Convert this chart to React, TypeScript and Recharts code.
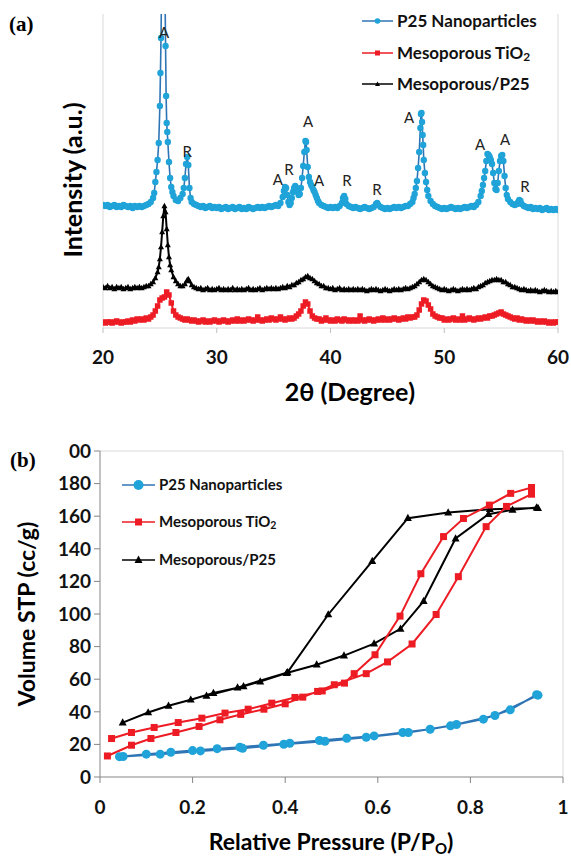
import React from 'react';
import { LineChart, Line, XAxis, YAxis, ReferenceLine, ReferenceDot } from 'recharts';

// (a) XRD patterns: [2θ, intensity a.u.]
const p25Xrd: [number, number][] = [
  [20.0,123],[20.2,122],[20.4,123],[20.6,121],[20.8,122],[21.0,123],[21.2,121],[21.4,122],[21.6,121],[21.8,123],[22.0,122],[22.2,121],[22.4,122],[22.6,120],[22.8,122],[23.0,121],[23.2,122],[23.4,121],[23.6,122],[23.8,123],[24.0,124],[24.2,126],
  [24.4,130],[24.5,135],[24.6,146],[24.7,156],[24.8,168],[24.9,185],[25.0,222],[25.05,255],[25.1,290],[25.15,340],[25.2,400],[25.3,450],[25.4,400],[25.45,340],[25.5,282],[25.55,232],[25.6,205],[25.65,196],[25.7,186],[25.8,166],[25.9,150],[26.0,141],[26.1,136],[26.2,132],[26.4,128],[26.6,127],[26.8,130],[27.0,134],[27.1,140],[27.2,150],[27.3,164],[27.4,171],[27.5,163],[27.6,140],[27.7,130],[27.8,126],[28.0,124],[28.2,123],
  [28.4,122],[28.6,121],[28.8,122],[29.0,120],[29.2,121],[29.4,122],[29.6,120],[29.8,121],[30.0,120],[30.2,121],[30.4,119],[30.6,120],[30.8,121],[31.0,119],[31.2,120],[31.4,121],[31.6,119],[31.8,120],[32.0,121],[32.2,119],[32.4,120],[32.6,119],[32.8,121],[33.0,120],[33.2,119],[33.4,120],[33.6,121],[33.8,120],[34.0,121],[34.2,120],[34.4,121],[34.6,122],[34.8,121],[35.0,122],[35.2,123],[35.4,122],
  [35.6,125],[35.8,131],[35.9,137],[36.0,141],[36.1,140],[36.2,133],[36.3,126],[36.4,123],[36.5,125],[36.6,130],[36.7,136],[36.8,140],[36.9,142],[37.0,140],[37.1,136],[37.2,133],[37.3,134],[37.4,140],[37.5,150],[37.6,162],[37.7,176],[37.8,187],[37.85,186],[37.9,178],[38.0,161],[38.1,151],[38.2,146],[38.3,143],[38.4,141],[38.5,138],[38.6,136],[38.7,133],[38.8,130],[38.9,127],[39.0,125],[39.2,123],
  [39.4,122],[39.6,121],[39.8,120],[40.0,121],[40.2,120],[40.4,121],[40.6,120],[40.8,122],[41.0,125],[41.1,130],[41.2,132],[41.3,129],[41.4,124],[41.6,122],[41.8,121],[42.0,120],[42.2,121],[42.4,120],[42.6,119],[42.8,120],[43.0,121],[43.2,120],[43.4,119],[43.6,120],[43.8,121],[44.0,124],[44.1,125],[44.2,123],[44.4,121],[44.6,120],[44.8,119],[45.0,120],[45.2,119],[45.4,120],[45.6,121],[45.8,120],[46.0,121],[46.2,120],[46.4,121],[46.6,122],[46.8,122],
  [47.0,124],[47.2,126],[47.3,130],[47.4,134],[47.5,140],[47.6,147],[47.7,160],[47.8,176],[47.9,200],[47.95,214],[48.0,215],[48.05,206],[48.1,193],[48.15,183],[48.2,168],[48.3,155],[48.4,146],[48.5,138],[48.6,132],[48.8,127],[49.0,124],[49.2,122],
  [49.4,121],[49.6,120],[49.8,119],[50.0,120],[50.2,119],[50.4,120],[50.6,121],[50.8,120],[51.0,119],[51.2,120],[51.4,119],[51.6,120],[51.8,121],[52.0,120],[52.2,121],[52.4,122],[52.6,121],[52.8,123],
  [53.0,126],[53.2,132],[53.3,137],[53.4,143],[53.5,150],[53.6,157],[53.7,167],[53.8,174],[53.9,173],[54.0,171],[54.1,168],[54.2,164],[54.3,155],[54.4,145],[54.5,139],[54.6,138],[54.7,145],[54.8,157],[54.9,167],[55.0,172],[55.1,173],[55.2,167],[55.3,152],[55.4,140],[55.5,133],[55.6,129],[55.8,126],[56.0,124],[56.2,123],[56.4,124],[56.5,126],[56.6,128],[56.7,127],[56.8,124],
  [57.0,122],[57.2,121],[57.4,120],[57.6,121],[57.8,119],[58.0,120],[58.2,119],[58.4,120],[58.6,118],[58.8,119],[59.0,120],[59.2,118],[59.4,119],[59.6,118],[59.8,119],[60.0,118],
];

const mesoP25Xrd: [number, number][] = [
  [20.0,41],[20.2,40],[20.4,42],[20.6,40],[20.8,41],[21.0,39],[21.2,41],[21.4,40],[21.6,41],[21.8,39],[22.0,40],[22.2,41],[22.4,39],[22.6,40],[22.8,41],[23.0,40],[23.2,41],[23.4,40],[23.6,41],[23.8,42],[24.0,42],[24.2,44],
  [24.4,46],[24.6,50],[24.8,56],[24.9,61],[25.0,69],[25.1,81],[25.2,96],[25.3,112],[25.4,122],[25.5,116],[25.6,99],[25.7,83],[25.8,71],[25.9,63],[26.0,58],[26.2,51],[26.4,47],[26.6,44],[26.8,42],[27.0,42],[27.2,44],[27.4,48],[27.5,49],[27.6,47],[27.8,43],[28.0,41],[28.2,40],
  [28.4,39],[28.6,40],[28.8,38],[29.0,39],[29.2,40],[29.4,38],[29.6,39],[29.8,38],[30.0,39],[30.2,40],[30.4,38],[30.6,39],[30.8,38],[31.0,39],[31.2,38],[31.4,40],[31.6,38],[31.8,39],[32.0,38],[32.2,39],[32.4,38],[32.6,39],[32.8,40],[33.0,38],[33.2,39],[33.4,38],[33.6,39],[33.8,40],[34.0,38],[34.2,39],[34.4,40],[34.6,39],[34.8,40],[35.0,39],[35.2,40],[35.4,39],[35.6,40],[35.8,41],
  [36.0,40],[36.2,42],[36.4,41],[36.6,43],[36.8,43],[37.0,45],[37.2,46],[37.4,48],[37.6,49],[37.8,51],[38.0,52],[38.2,50],[38.4,49],[38.6,47],[38.8,45],[39.0,44],[39.2,42],[39.4,42],[39.6,40],[39.8,40],
  [40.0,39],[40.2,40],[40.4,38],[40.6,39],[40.8,40],[41.0,38],[41.2,39],[41.4,38],[41.6,39],[41.8,38],[42.0,39],[42.2,38],[42.4,39],[42.6,38],[42.8,39],[43.0,38],[43.2,37],[43.4,38],[43.6,39],[43.8,38],[44.0,39],[44.2,38],[44.4,37],[44.6,38],[44.8,39],[45.0,38],[45.2,37],[45.4,38],[45.6,39],[45.8,38],[46.0,39],[46.2,38],[46.4,39],[46.6,40],[46.8,39],
  [47.0,40],[47.2,41],[47.4,42],[47.6,44],[47.8,46],[48.0,48],[48.2,49],[48.4,48],[48.6,46],[48.8,44],[49.0,42],[49.2,41],[49.4,40],[49.6,39],[49.8,38],
  [50.0,39],[50.2,38],[50.4,37],[50.6,38],[50.8,39],[51.0,38],[51.2,37],[51.4,38],[51.6,39],[51.8,38],[52.0,39],[52.2,38],[52.4,39],[52.6,40],[52.8,39],
  [53.0,41],[53.2,42],[53.4,43],[53.6,45],[53.8,46],[54.0,47],[54.2,48],[54.4,48],[54.6,49],[54.8,48],[55.0,48],[55.2,46],[55.4,46],[55.6,44],[55.8,43],[56.0,41],[56.2,41],[56.4,40],[56.6,39],[56.8,38],
  [57.0,39],[57.2,38],[57.4,37],[57.6,38],[57.8,37],[58.0,38],[58.2,37],[58.4,36],[58.6,37],[58.8,38],[59.0,37],[59.2,36],[59.4,37],[59.6,36],[59.8,37],[60.0,36],
];

const mesoTiO2Xrd: [number, number][] = [
  [20.0,6],[20.2,5],[20.4,6],[20.6,6],[20.8,5],[21.0,6],[21.2,7],[21.4,6],[21.6,5],[21.8,6],[22.0,6],[22.2,7],[22.4,6],[22.6,8],[22.8,7],[23.0,9],[23.2,8],[23.4,9],[23.6,8],[23.8,10],[24.0,9],[24.2,11],
  [24.4,13],[24.6,17],[24.8,22],[25.0,28],[25.2,30],[25.4,31],[25.6,36],[25.8,33],[26.0,25],[26.2,17],[26.4,13],[26.6,11],[26.8,10],[27.0,9],[27.2,8],[27.4,9],[27.6,8],[27.8,7],
  [28.0,8],[28.2,7],[28.4,6],[28.6,7],[28.8,8],[29.0,6],[29.2,7],[29.4,6],[29.6,7],[29.8,8],[30.0,7],[30.2,6],[30.4,7],[30.6,8],[30.8,7],[31.0,6],[31.2,7],[31.4,8],[31.6,7],[31.8,9],[32.0,7],[32.2,8],[32.4,7],[32.6,8],[32.8,9],[33.0,8],[33.2,7],[33.4,8],[33.6,11],[33.8,8],[34.0,7],[34.2,8],[34.4,9],[34.6,8],[34.8,10],[35.0,9],[35.2,8],[35.4,9],[35.6,11],[35.8,9],[36.0,8],[36.2,9],[36.4,10],[36.6,9],[36.8,10],
  [37.0,12],[37.2,14],[37.4,17],[37.6,22],[37.8,26],[38.0,24],[38.2,17],[38.4,12],[38.6,10],[38.8,9],
  [39.0,9],[39.2,7],[39.4,8],[39.6,10],[39.8,8],[40.0,7],[40.2,8],[40.4,7],[40.6,9],[40.8,8],[41.0,7],[41.2,9],[41.4,8],[41.6,7],[41.8,8],[42.0,7],[42.2,8],[42.4,7],[42.6,12],[42.8,8],[43.0,7],[43.2,8],[43.4,9],[43.6,8],[43.8,7],[44.0,8],[44.2,9],[44.4,8],[44.6,10],[44.8,8],[45.0,9],[45.2,8],[45.4,9],[45.6,10],[45.8,9],[46.0,8],[46.2,9],[46.4,10],[46.6,9],[46.8,11],
  [47.0,10],[47.2,11],[47.4,11],[47.6,13],[47.8,18],[48.0,24],[48.2,28],[48.4,27],[48.6,23],[48.8,19],[49.0,14],[49.2,12],[49.4,11],[49.6,10],[49.8,10],
  [50.0,8],[50.2,9],[50.4,8],[50.6,9],[50.8,10],[51.0,8],[51.2,9],[51.4,8],[51.6,12],[51.8,8],[52.0,9],[52.2,10],[52.4,9],[52.6,8],[52.8,9],
  [53.0,10],[53.2,9],[53.4,10],[53.6,11],[53.8,10],[54.0,12],[54.2,12],[54.4,13],[54.6,14],[54.8,15],[55.0,16],[55.2,14],[55.4,13],[55.6,12],[55.8,11],[56.0,10],[56.2,9],[56.4,10],[56.6,8],[56.8,9],
  [57.0,8],[57.2,7],[57.4,8],[57.6,7],[57.8,8],[58.0,7],[58.2,6],[58.4,7],[58.6,6],[58.8,7],[59.0,6],[59.2,5],[59.4,6],[59.6,5],[59.8,6],[60.0,6],
];

const xrdTicks = [20, 30, 40, 50, 60];

// phase markers (A = anatase, R = rutile) at [2θ, intensity]
const phaseLabels: [number, number, string][] = [
  [25.36, 295, 'A'], [27.41, 176, 'R'], [35.38, 148, 'A'], [36.35, 158, 'R'],
  [38.02, 206, 'A'], [38.99, 147, 'A'], [41.45, 147, 'R'], [44.09, 138, 'R'],
  [46.9, 210, 'A'], [53.14, 183, 'A'], [55.34, 188, 'A'], [57.1, 141, 'R'],
];

// (b) N2 isotherms: [P/P0, volume cc/g], adsorption then desorption
const p25Iso: [number, number][] = [
  [0.042,12.5],[0.1,14],[0.153,15.2],[0.2,16.2],[0.253,17.4],[0.302,18.3],[0.353,19.5],[0.41,20.7],[0.474,22.4],[0.533,23.8],[0.592,25.2],[0.654,27.3],[0.713,29.3],[0.77,32.2],[0.828,35.5],[0.886,41.2],[0.943,50.5],
  [0.946,50.2],[0.853,37.7],[0.757,31.4],[0.666,27.3],[0.575,24.4],[0.486,21.9],[0.397,20.1],[0.308,17.6],[0.217,16],[0.13,14],[0.05,12.6],
];

const mesoTiO2Iso: [number, number][] = [
  [0.016,12.9],[0.068,19.5],[0.11,23.6],[0.164,27.3],[0.214,31],[0.259,35.1],[0.304,38.4],[0.354,41.6],[0.4,44.9],[0.438,49],[0.47,52.5],[0.506,56.6],[0.575,63.4],[0.621,70.6],[0.674,81.6],[0.726,99.7],[0.774,122.9],[0.834,153.6],[0.878,166],[0.932,173.5],
  [0.932,177.6],[0.887,174],[0.841,166.8],[0.785,158.6],[0.742,147.5],[0.693,124.7],[0.648,98.7],[0.594,75],[0.549,63.4],[0.528,57.6],[0.48,52.8],[0.421,48.8],[0.371,45.3],[0.32,41.6],[0.27,39.2],[0.22,36.1],[0.169,33.4],[0.117,30.4],[0.068,27.3],[0.025,23.6],
];

const mesoP25Iso: [number, number][] = [
  [0.049,33.4],[0.104,39.6],[0.148,43.7],[0.196,47.4],[0.245,51.5],[0.31,55.6],[0.346,58.5],[0.403,63.8],[0.468,68.9],[0.527,74.5],[0.592,81.8],[0.649,90.9],[0.699,107.9],[0.768,146.3],[0.839,161.2],[0.891,163.9],[0.943,165.3],
  [0.946,165],[0.842,164.3],[0.752,162.2],[0.665,158.8],[0.588,132.5],[0.493,99.7],[0.405,64.2],[0.297,54.8],[0.23,49.8],
];

const isoXTicks = [0, 0.2, 0.4, 0.6, 0.8, 1];
const isoYTicks = [0, 20, 40, 60, 80, 100, 120, 140, 160, 180, 200];

const BLUE_LINE = '#2E75B6';
const BLUE_DOT = '#1FA3D8';
const RED = '#ED1C24';
const FONT = 'Lato, "Open Sans", sans-serif';

const pts = (arr: [number, number][]) => arr.map(([x, y]) => ({ x, y }));

const squareDot = (size: number, fill: string) => (props: any) => {
  const { cx, cy, index } = props;
  if (cx == null || cy == null) return <g key={index} />;
  return <rect key={index} x={cx - size / 2} y={cy - size / 2} width={size} height={size} fill={fill} />;
};

const triangleDot = (size: number, fill: string) => (props: any) => {
  const { cx, cy, index } = props;
  if (cx == null || cy == null) return <g key={index} />;
  const h = size * 0.9;
  return (
    <polygon
      key={index}
      points={`${cx},${cy - h * 0.6} ${cx - size / 2},${cy + h * 0.4} ${cx + size / 2},${cy + h * 0.4}`}
      fill={fill}
    />
  );
};

const LegendRow = ({ top, left, lineW, color, marker, text, fontSize }: any) => (
  <div style={{ position: 'absolute', top: top - 11, left, height: 22, display: 'flex', alignItems: 'center', whiteSpace: 'nowrap' }}>
    <svg width={lineW} height={20} style={{ display: 'block' }}>
      <line x1={0} y1={10} x2={lineW} y2={10} stroke={color} strokeWidth={1.5} />
      {marker}
    </svg>
    <span style={{ marginLeft: 4, fontSize, fontWeight: 700, color: '#111', lineHeight: 1.3 }}>{text}</span>
  </div>
);

const centered = (x: number, y: number, extra: React.CSSProperties = {}): React.CSSProperties => ({
  position: 'absolute', left: x, top: y, transform: 'translate(-50%, -50%)', whiteSpace: 'nowrap', lineHeight: 1.3, ...extra,
});

const tickStyle = { fontSize: 19, fontWeight: 700, fill: '#111', fontFamily: FONT };
const subStyle: React.CSSProperties = { fontSize: '0.7em', verticalAlign: 'baseline', position: 'relative', top: '0.2em' };

const App = () => {
  return (
    <div style={{ position: 'absolute', left: 0, top: 0, width: 571, height: 857, background: '#fff', fontFamily: FONT, overflow: 'hidden' }}>
      {/* panel (a) */}
      <div style={{ position: 'absolute', left: 0, top: 0 }}>
        <LineChart width={571} height={410} margin={{ top: 14, right: 13, left: 103, bottom: 52 }}>
          <XAxis
            type="number"
            dataKey="x"
            domain={[20, 60]}
            ticks={xrdTicks}
            allowDataOverflow
            axisLine={{ stroke: '#d9d9d9' }}
            tickLine={{ stroke: '#bfbfbf' }}
            tickSize={5}
            tickMargin={18}
            tick={tickStyle}
            height={30}
          />
          <YAxis hide type="number" dataKey="y" domain={[0, 314]} allowDataOverflow />
          <ReferenceLine x={20} stroke="#d9d9d9" />
          <ReferenceLine x={60} stroke="#d9d9d9" />
          <Line data={pts(mesoTiO2Xrd)} dataKey="y" stroke={RED} strokeWidth={2} dot={squareDot(5.5, RED)} isAnimationActive={false} />
          <Line data={pts(mesoP25Xrd)} dataKey="y" stroke="#000" strokeWidth={2} dot={triangleDot(6, '#000')} isAnimationActive={false} />
          <Line data={pts(p25Xrd)} dataKey="y" stroke={BLUE_LINE} strokeWidth={1.6} dot={{ r: 3.2, fill: BLUE_DOT, stroke: BLUE_DOT, strokeWidth: 0 }} isAnimationActive={false} />
          {phaseLabels.map(([x, y, t], i) => (
            <ReferenceDot key={i} x={x} y={y} r={0} fill="none" stroke="none"
              label={{ value: t, position: 'center', fill: '#222', fontSize: 15, fontFamily: FONT }} />
          ))}
        </LineChart>
      </div>

      <div style={{ position: 'absolute', left: 9, top: 14, fontFamily: '"Liberation Serif", serif', fontWeight: 700, fontSize: 21, lineHeight: 1 }}>(a)</div>
      <div style={centered(72, 180, { transform: 'translate(-50%, -50%) rotate(-90deg)', fontSize: 25, fontWeight: 700 })}>Intensity (a.u.)</div>
      <div style={centered(350, 391, { fontSize: 25, fontWeight: 700 })}>2θ (Degree)</div>

      <LegendRow top={21} left={362} lineW={31} color={BLUE_LINE} fontSize={17} text="P25 Nanoparticles"
        marker={<circle cx={15.5} cy={10} r={2.8} fill={BLUE_DOT} />} />
      <LegendRow top={53} left={362} lineW={31} color={RED} fontSize={17} text={<>Mesoporous TiO<sub style={subStyle}>2</sub></>}
        marker={<rect x={13} y={7.5} width={5} height={5} fill={RED} />} />
      <LegendRow top={84} left={362} lineW={31} color="#000" fontSize={17} text="Mesoporous/P25"
        marker={<polygon points="15.5,7.5 13,12 18,12" fill="#000" />} />

      {/* panel (b) */}
      <div style={{ position: 'absolute', left: 0, top: 410 }}>
        <LineChart width={571} height={447} margin={{ top: 41, right: 8, left: 40, bottom: 50 }}>
          <XAxis
            type="number"
            dataKey="x"
            domain={[0, 1]}
            ticks={isoXTicks}
            axisLine={{ stroke: '#868686' }}
            tickLine={{ stroke: '#868686' }}
            tickSize={6}
            tickMargin={18}
            tick={tickStyle}
            height={30}
          />
          <YAxis
            type="number"
            dataKey="y"
            domain={[0, 200]}
            ticks={isoYTicks}
            width={60}
            axisLine={{ stroke: '#868686' }}
            tickLine={{ stroke: '#868686' }}
            tickSize={6}
            tickMargin={3}
            tick={tickStyle}
            tickFormatter={(v: number) => (v === 200 ? '00' : String(v))}
          />
          <ReferenceLine y={200} stroke="#d9d9d9" />
          <ReferenceLine x={1} stroke="#d9d9d9" />
          <Line data={pts(p25Iso)} dataKey="y" stroke={BLUE_LINE} strokeWidth={2} dot={{ r: 4.5, fill: BLUE_DOT, stroke: BLUE_DOT, strokeWidth: 0 }} isAnimationActive={false} />
          <Line data={pts(mesoP25Iso)} dataKey="y" stroke="#000" strokeWidth={2} dot={triangleDot(8, '#000')} isAnimationActive={false} />
          <Line data={pts(mesoTiO2Iso)} dataKey="y" stroke={RED} strokeWidth={2} dot={squareDot(7, RED)} isAnimationActive={false} />
        </LineChart>
      </div>

      <div style={{ position: 'absolute', left: 10, top: 450, fontFamily: '"Liberation Serif", serif', fontWeight: 700, fontSize: 21, lineHeight: 1 }}>(b)</div>
      <div style={centered(27, 614, { transform: 'translate(-50%, -50%) rotate(-90deg)', fontSize: 23, fontWeight: 700 })}>Volume STP (cc/g)</div>
      <div style={centered(331, 841, { fontSize: 23, fontWeight: 700, lineHeight: 1.5 })}>
        Relative Pressure (P/P<sub style={{ ...subStyle, fontSize: '0.65em', top: '0.3em' }}>O</sub>)
      </div>

      <LegendRow top={485} left={122} lineW={33} color={BLUE_LINE} fontSize={15} text="P25 Nanoparticles"
        marker={<circle cx={16.5} cy={10} r={5} fill={BLUE_DOT} />} />
      <LegendRow top={522} left={122} lineW={33} color={RED} fontSize={15} text={<>Mesoporous TiO<sub style={subStyle}>2</sub></>}
        marker={<rect x={13} y={6.5} width={7} height={7} fill={RED} />} />
      <LegendRow top={560} left={122} lineW={33} color="#000" fontSize={15} text="Mesoporous/P25"
        marker={<polygon points="16.5,5.5 12.5,13 20.5,13" fill="#000" />} />
    </div>
  );
};

export default App;
